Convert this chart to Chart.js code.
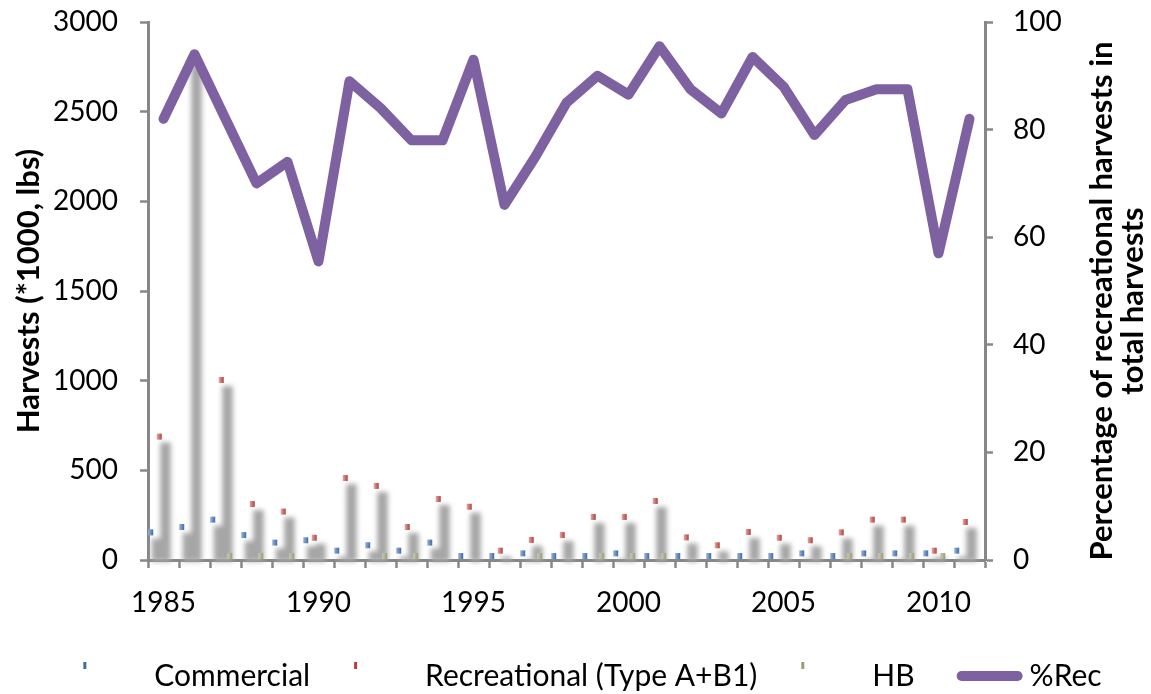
<!DOCTYPE html>
<html>
<head>
<meta charset="utf-8">
<title>Harvests</title>
<script src="https://cdn.jsdelivr.net/npm/chart.js@4.4.1/dist/chart.umd.min.js"></script>
<style>
  html, body { margin: 0; padding: 0; background: #fff; }
  #wrap { width: 1151px; height: 694px; }
</style>
</head>
<body>
<div id="wrap"><canvas id="harvestChart" width="1151" height="694"></canvas></div>
<script>
const years = ['1985', '1986', '1987', '1988', '1989', '1990', '1991', '1992', '1993', '1994',
  '1995', '1996', '1997', '1998', '1999', '2000', '2001', '2002', '2003', '2004',
  '2005', '2006', '2007', '2008', '2009', '2010', '2011'];

// harvests, *1000 lbs
const commercial = [154, 184, 225, 139, 97, 110, 52, 82, 52, 97,
  22, 22, 37, 22, 22, 37, 22, 22, 22, 22,
  22, 37, 22, 37, 37, 37, 52];
const recreational = [688, 2790, 1004, 312, 270, 124, 457, 413, 184, 340,
  297, 52, 112, 139, 240, 240, 329, 126, 82, 156,
  124, 110, 154, 225, 225, 52, 212];
const headboat = [null, null, 22, 22, 22, null, null, 22, 22, null,
  null, null, 22, null, 22, 22, 22, null, null, null,
  null, null, 22, 22, 22, 22, null];

// % recreational in total harvests
const pctRec = [82, 94, 82, 70, 74, 55.5, 89, 84, 78, 78,
  93, 66, 75, 85, 90, 86.5, 95.5, 87.5, 83, 93.5,
  88, 79, 85.5, 87.5, 87.5, 57, 82];

const harvestTicks = [0, 500, 1000, 1500, 2000, 2500, 3000];
const pctTicks = [0, 20, 40, 60, 80, 100];

const rightTitle = ['Percentage of recreational harvests in', 'total harvests'];

const FONT = 'Lato';
const GREY = '#878787';
const LEGEND_SIZE = 30;
const LEGEND_BOX = 90;
const PAD_BOTTOM = -7;
const TITLE_SIZE = 31;

// grey blurred column under each bar, plus the little coloured top face
const barCaps = {
  id: 'barCaps',
  beforeDatasetsDraw(chart) {
    const ctx = chart.ctx;
    const bars = [];
    chart.data.datasets.forEach((ds, i) => {
      if (ds.type === 'line') return;
      chart.getDatasetMeta(i).data.forEach((el, j) => {
        if (ds.data[j] == null) return;
        bars.push({ el, ds });
      });
    });

    ctx.save();
    ctx.filter = 'blur(2.5px)';
    ctx.fillStyle = '#a6a6a6';
    ctx.beginPath();
    bars.forEach(({ el }) => {
      const left = el.x - el.width / 2;
      const top = el.y + 6;
      const bottom = el.base + 2;
      if (bottom > top) ctx.rect(left + 1, top, el.width + 2, bottom - top);
    });
    ctx.fill();
    ctx.restore();

    ctx.save();
    bars.forEach(({ el, ds }) => {
      const left = el.x - el.width / 2;
      const g = ctx.createLinearGradient(left - 2.5, 0, left + 2.5, 0);
      g.addColorStop(0, ds.capColours[0]);
      g.addColorStop(1, ds.capColours[1]);
      ctx.fillStyle = g;
      ctx.fillRect(left - 2.5, el.y - 3, 5, 6);
    });
    ctx.restore();
  }
};

// legend keys: tiny mark for the bar series, thick stroke for %Rec
const legendKeys = {
  id: 'legendKeys',
  afterDraw(chart) {
    const ctx = chart.ctx;
    chart.legend.legendHitBoxes.forEach((box, i) => {
      const ds = chart.data.datasets[i];
      const textX = box.left + LEGEND_BOX + LEGEND_SIZE / 2;
      const cy = box.top + box.height / 2;
      ctx.save();
      if (ds.type === 'line') {
        ctx.strokeStyle = ds.borderColor;
        ctx.lineWidth = 10;
        ctx.lineCap = 'round';
        ctx.beginPath();
        ctx.moveTo(textX - 68, cy);
        ctx.lineTo(textX - 12, cy);
        ctx.stroke();
      } else {
        ctx.fillStyle = ds.capColours[1];
        ctx.fillRect(textX - 71, cy - 14, 3, 7);
      }
      ctx.restore();
    });
  }
};

// right axis title, read bottom-to-top like the left one
const rightAxisTitle = {
  id: 'rightAxisTitle',
  afterDraw(chart) {
    const s = chart.scales.y1;
    const ctx = chart.ctx;
    const cy = (s.top + s.bottom) / 2 + 10;
    ctx.save();
    ctx.font = `bold ${TITLE_SIZE}px ${FONT}`;
    ctx.fillStyle = '#000';
    ctx.textAlign = 'center';
    ctx.textBaseline = 'middle';
    rightTitle.forEach((line, k) => {
      ctx.save();
      ctx.translate(s.right - 49 + k * 31, cy);
      ctx.rotate(-Math.PI / 2);
      ctx.fillText(line, 0, 0);
      ctx.restore();
    });
    ctx.restore();
  }
};

// vertical axes: no extra room for half-labels above/below the plot
const noOverflow = s => { s.paddingTop = 0; s.paddingBottom = 0; };

const tickFont = { family: FONT, size: 28 };
const titleFont = { family: FONT, size: TITLE_SIZE, weight: 'bold', lineHeight: 1.03 };
const plain = v => String(v);

new Chart(document.getElementById('harvestChart'), {
  type: 'bar',
  data: {
    labels: years,
    datasets: [
      {
        label: 'Commercial', data: commercial, capColours: ['#98b4da', '#3f6ba6'],
        backgroundColor: 'rgba(0,0,0,0)', borderWidth: 0, order: 1,
        categoryPercentage: 0.823, barPercentage: 1
      },
      {
        label: 'Recreational (Type A+B1)', data: recreational, capColours: ['#e4a6a4', '#b23f3c'],
        backgroundColor: 'rgba(0,0,0,0)', borderWidth: 0, order: 1,
        categoryPercentage: 0.823, barPercentage: 1
      },
      {
        label: 'HB', data: headboat, capColours: ['#c8caae', '#9a9c7c'],
        backgroundColor: 'rgba(0,0,0,0)', borderWidth: 0, order: 1,
        categoryPercentage: 0.823, barPercentage: 1
      },
      {
        type: 'line', label: '%Rec', data: pctRec, yAxisID: 'y1', order: 0,
        borderColor: '#7d61a1', borderWidth: 10, pointRadius: 0, tension: 0,
        borderJoinStyle: 'round', borderCapStyle: 'round', fill: false
      }
    ]
  },
  options: {
    responsive: false,
    animation: false,
    devicePixelRatio: 1,
    layout: { padding: { top: 22, left: 0, right: 0, bottom: PAD_BOTTOM } },
    plugins: {
      tooltip: { enabled: false },
      legend: {
        position: 'bottom',
        labels: {
          font: { family: FONT, size: LEGEND_SIZE },
          color: '#000',
          boxWidth: LEGEND_BOX,
          boxHeight: 10,
          padding: 10,
          generateLabels: chart => chart.data.datasets.map((ds, i) => ({
            text: ds.label,
            fillStyle: 'rgba(0,0,0,0)',
            strokeStyle: 'rgba(0,0,0,0)',
            lineWidth: 0,
            hidden: false,
            datasetIndex: i,
            fontColor: '#000'
          }))
        }
      }
    },
    scales: {
      x: {
        offset: true,
        grid: {
          offset: true, drawOnChartArea: false, drawTicks: true,
          tickLength: 8, tickWidth: 2.5, tickColor: GREY
        },
        border: { color: GREY, width: 3 },
        ticks: {
          font: tickFont, color: '#000', autoSkip: false, maxRotation: 0, padding: 18,
          callback: (v, i) => ((+years[i] - 1985) % 5 === 0 ? years[i] : '')
        },
        afterFit: s => { s.height = 694 - PAD_BOTTOM - 560 - s.chart.legend.height; }
      },
      y: {
        position: 'left',
        min: harvestTicks[0],
        max: harvestTicks[harvestTicks.length - 1],
        afterBuildTicks: s => { s.ticks = harvestTicks.map(v => ({ value: v })); },
        grid: { drawOnChartArea: false, tickLength: 8, tickWidth: 2.5, tickColor: GREY },
        border: { color: GREY, width: 3 },
        ticks: { font: tickFont, color: '#000', padding: 22, callback: plain },
        title: {
          display: true, text: 'Harvests (*1000, lbs)', color: '#000',
          font: titleFont, padding: { top: 13, bottom: 0 }
        },
        afterFit: s => { s.width = 148; noOverflow(s); }
      },
      y1: {
        position: 'right',
        min: pctTicks[0],
        max: pctTicks[pctTicks.length - 1],
        afterBuildTicks: s => { s.ticks = pctTicks.map(v => ({ value: v })); },
        grid: { drawOnChartArea: false, tickLength: 8, tickWidth: 2.5, tickColor: GREY },
        border: { color: GREY, width: 3 },
        ticks: { font: tickFont, color: '#000', padding: 20, callback: plain },
        title: { display: false },
        afterFit: s => { s.width = 1151 - 985; noOverflow(s); }
      }
    }
  },
  plugins: [barCaps, legendKeys, rightAxisTitle]
});
</script>
</body>
</html>
